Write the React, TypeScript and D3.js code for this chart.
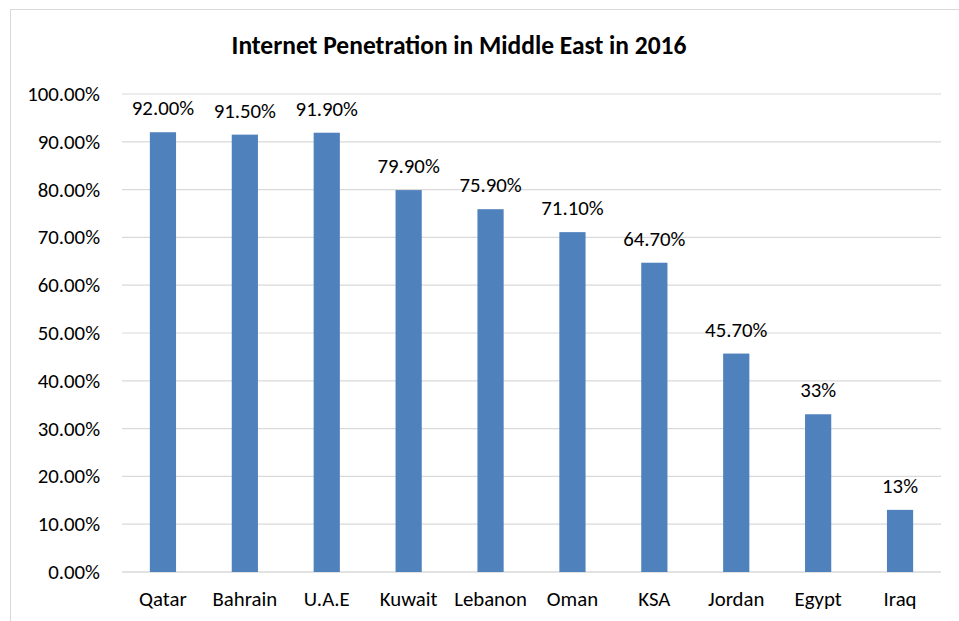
import React from "react";
import * as d3 from "d3";

const categories = ["Qatar", "Bahrain", "U.A.E", "Kuwait", "Lebanon", "Oman", "KSA", "Jordan", "Egypt", "Iraq"];
const values = [0.92, 0.915, 0.919, 0.799, 0.759, 0.711, 0.647, 0.457, 0.33, 0.13];
const valueLabels = ["92.00%", "91.50%", "91.90%", "79.90%", "75.90%", "71.10%", "64.70%", "45.70%", "33%", "13%"];
const yTicks = [0, 0.1, 0.2, 0.3, 0.4, 0.5, 0.6, 0.7, 0.8, 0.9, 1.0];
const title = "Internet Penetration in Middle East in 2016";

const W = 959;
const H = 621;
const FONT = "Carlito, Calibri, 'Open Sans', sans-serif";

export default function App() {
  const left = 122, right = 941, top = 94, bottom = 572;
  const x = d3.scaleBand<string>().domain(categories).range([left, right]).paddingInner(0.68).paddingOuter(0.34);
  const y = d3.scaleLinear().domain([0, 1]).range([bottom, top]);
  const fmt = d3.format(".2%");
  return (
    <svg width={W} height={H} style={{ position: "absolute", left: 0, top: 0, background: "#fff" }}>
      <rect x={10.5} y={9.5} width={W + 10} height={H + 10} fill="#fff" stroke="#d9d9d9" strokeWidth={1} />
      <text x={459} y={54} textAnchor="middle" fontFamily={FONT} fontWeight="bold" fontSize={25.5} fill="#000">{title}</text>
      {yTicks.map((t) => (
        <g key={t}>
          <line x1={left} x2={right} y1={y(t)} y2={y(t)} stroke="#d9d9d9" strokeWidth={t === 0 ? 1.5 : 1.2} />
          <text x={100} y={y(t)} dy="0.34em" textAnchor="end" fontFamily={FONT} fontSize={20.8} fill="#000">{fmt(t)}</text>
        </g>
      ))}
      {categories.map((c, i) => (
        <g key={c}>
          <rect x={x(c)} y={y(values[i])} width={x.bandwidth()} height={y(0) - y(values[i])} fill="#4f81bd" />
          <text x={(x(c) as number) + x.bandwidth() / 2} y={y(values[i]) - 17} textAnchor="middle" fontFamily={FONT} fontSize={20.8} fill="#000">{valueLabels[i]}</text>
          <text x={(x(c) as number) + x.bandwidth() / 2} y={606} textAnchor="middle" fontFamily={FONT} fontSize={20.8} fill="#000">{c}</text>
        </g>
      ))}
    </svg>
  );
}
